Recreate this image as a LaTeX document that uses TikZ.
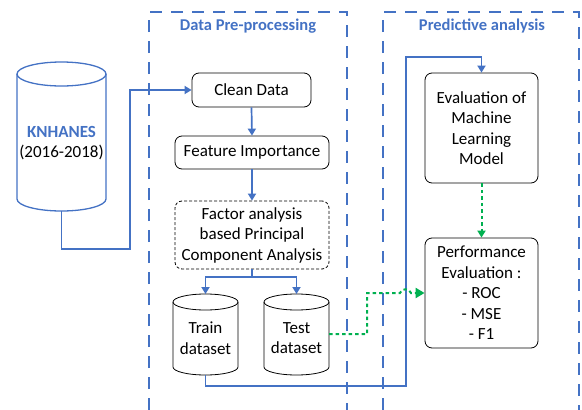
\documentclass[tikz,border=0pt]{standalone}
\usepackage{fontspec}
\setmainfont{Carlito}
\usetikzlibrary{arrows.meta}
\definecolor{myblue}{HTML}{4472C4}
\definecolor{mygreen}{HTML}{00B050}
\begin{document}
\begin{tikzpicture}[x=1pt,y=-1pt,
  frame/.style={draw=myblue, line width=1.3pt, dash pattern=on 12pt off 9pt},
  ttl/.style={text=myblue, font=\fontsize{16.5}{19}\selectfont\bfseries, inner sep=0pt},
  box/.style={draw=black, line width=0.8pt, rounded corners=7pt, align=center, inner sep=0pt,
              font=\fontsize{17}{20.5}\selectfont},
  lbl/.style={align=center, inner sep=0pt, font=\fontsize{17}{20.5}\selectfont},
  bl/.style={draw=myblue, line width=1.7pt, -{Triangle[length=7pt,width=8pt]}},
  gr/.style={draw=mygreen, line width=2pt, dash pattern=on 3.5pt off 3pt, -{Triangle[length=9pt,width=10pt]}},
  cyl/.style={line width=0.8pt}
]
\useasboundingbox (0,0) rectangle (582,410);

% frames
\draw[frame] (149,410) -- (149,12) -- (347,12) -- (347,410);
\draw[frame] (383,410) -- (383,12) -- (579,12) -- (579,410);
\node[ttl] (t1) at (248,26) {Data Pre-processing};
\node[ttl] (t2) at (482,26) {Predictive analysis};

% KNHANES cylinder
\draw[draw=myblue, line width=1.3pt] (17,74) -- (17,199) arc[start angle=180, end angle=0, x radius=44.5, y radius=12] -- (106,74);
\draw[draw=myblue, line width=1.3pt] (61.5,74) ellipse[x radius=44.5, y radius=12];
\node[lbl, minimum width=89pt, minimum height=149pt] (kn) at (61.5,136) {};
\node[lbl] (knt) at (61.5,143) {\textcolor{myblue}{\bfseries KNHANES}\\(2016-2018)};
\coordinate (knb) at (61.5,211);

% train cylinder
\draw[cyl] (173,302) -- (173,367) arc[start angle=180, end angle=0, x radius=32.5, y radius=8] -- (238,302);
\draw[cyl] (205.5,302) ellipse[x radius=32.5, y radius=8];
\node[lbl] (train) at (205.5,338) {Train\\dataset};
\coordinate (traintop) at (205.5,294);
\coordinate (trainbot) at (205.5,375);

% test cylinder
\draw[cyl] (264,302) -- (264,367) arc[start angle=180, end angle=0, x radius=32.5, y radius=8] -- (329,302);
\draw[cyl] (296.5,302) ellipse[x radius=32.5, y radius=8];
\node[lbl] (test) at (296.5,338) {Test\\dataset};
\coordinate (testtop) at (296.5,294);
\coordinate (testr) at (329,334);

% boxes
\node[box, minimum width=119pt, minimum height=34pt] (clean) at (251.5,90) {Clean Data};
\node[box, minimum width=154pt, minimum height=33pt] (feat) at (252,152.5) {Feature Importance};
\node[box, dash pattern=on 3pt off 2pt, minimum width=154pt, minimum height=68pt] (fa) at (252,235)
  {Factor analysis\\based Principal\\Component Analysis};
\node[box, minimum width=113pt, minimum height=110pt] (eval) at (481.5,128)
  {Evaluation of\\Machine\\Learning\\Model};
\node[box, minimum width=113pt, minimum height=110pt] (perf) at (481.5,293)
  {Performance\\Evaluation :\\- ROC\\- MSE\\- F1};

% blue connectors
\draw[bl] (knb) -- (61.5,249) -- (130,249) -- (130,90) -- (clean.west);
\draw[bl] (clean.south) -- (feat.north);
\draw[bl] (feat.south) -- (fa.north);
\draw[draw=myblue, line width=1.7pt] (fa.south) -- (252,277);
\draw[bl] (252,277) -| (traintop);
\draw[bl] (252,277) -| (testtop);
\draw[bl] (trainbot) -- (205.5,386) -- (406,386) -- (406,57) -| (eval.north);

% green connectors
\draw[gr, -{Triangle[length=7pt,width=8pt]}] (eval.south) -- (perf.north);
\draw[gr] (testr) -- (367,334) -- (367,293) -- (400,293) .. controls (401,288) and (410,288) .. (411,293) -- (perf.west |- 0,293);
\end{tikzpicture}
\end{document}
